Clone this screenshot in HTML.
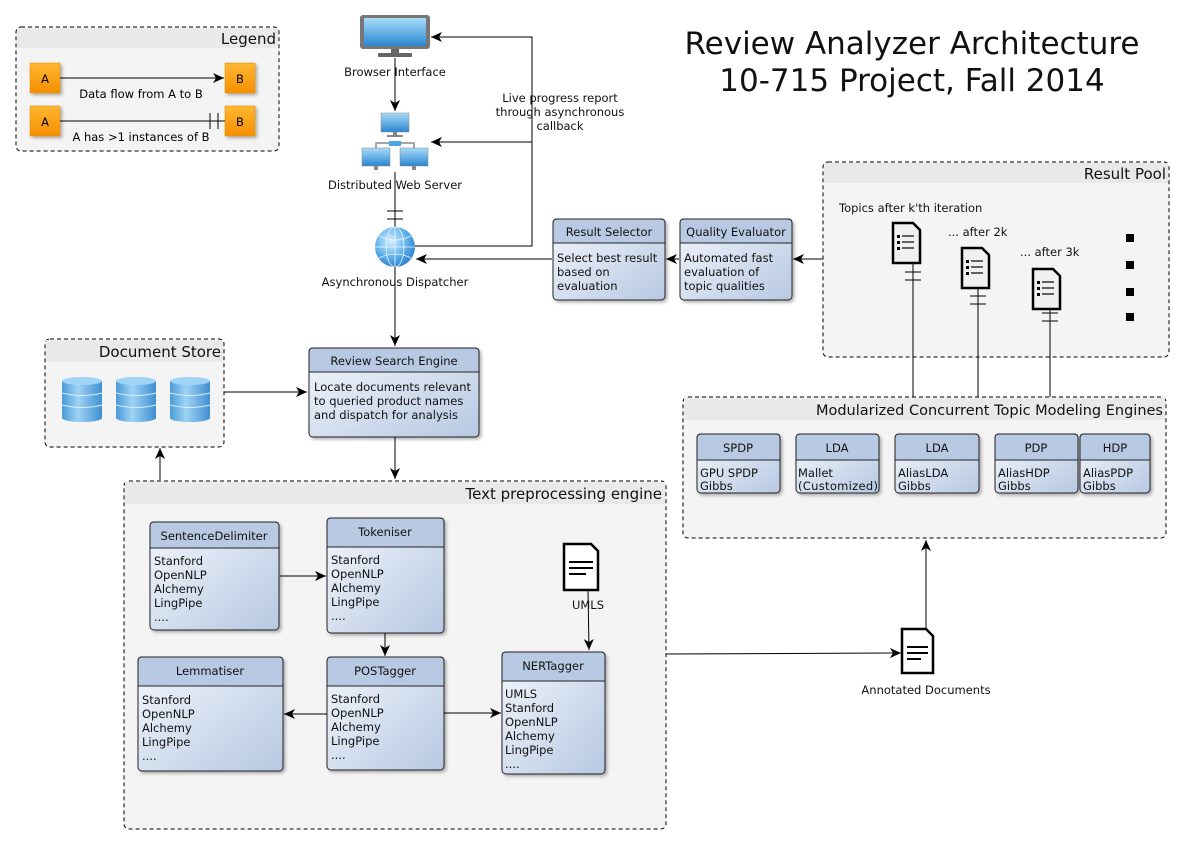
<!DOCTYPE html>
<html><head><meta charset="utf-8"><style>
html,body{margin:0;padding:0;background:#fff;}
svg{display:block;font-family:"DejaVu Sans","Liberation Sans",sans-serif;}
</style></head><body>
<svg width="1196" height="845" viewBox="0 0 1196 845" xmlns="http://www.w3.org/2000/svg">
<defs>
<linearGradient id="bg" x1="0" y1="0" x2="1" y2="1"><stop offset="0" stop-color="#f4f7fc"/><stop offset="1" stop-color="#b6c8e2"/></linearGradient>
<linearGradient id="or" x1="0" y1="0" x2="0" y2="1"><stop offset="0" stop-color="#ffb733"/><stop offset="1" stop-color="#f58f00"/></linearGradient>
<linearGradient id="mon" x1="0" y1="0" x2="0" y2="1"><stop offset="0" stop-color="#a9dcf8"/><stop offset="1" stop-color="#2a86d1"/></linearGradient>
<linearGradient id="db" x1="0" y1="0" x2="1" y2="0"><stop offset="0" stop-color="#4a9ad8"/><stop offset="0.4" stop-color="#9ed3f5"/><stop offset="1" stop-color="#3f8fd2"/></linearGradient>
<radialGradient id="gl" cx="0.4" cy="0.35" r="0.7"><stop offset="0" stop-color="#d8f0ff"/><stop offset="0.6" stop-color="#5aaee8"/><stop offset="1" stop-color="#2a7ccc"/></radialGradient>
<marker id="ar" markerWidth="12" markerHeight="10" refX="11" refY="5" orient="auto" markerUnits="userSpaceOnUse"><path d="M0,0 L11,5 L0,10 L3,5 Z" fill="#000"/></marker>
<filter id="sh" x="-10%" y="-10%" width="130%" height="130%"><feDropShadow dx="2" dy="2" stdDeviation="1.5" flood-opacity="0.3"/></filter>
</defs>

<g fill="#f4f4f4" stroke="#000" stroke-dasharray="4,3" stroke-width="1">
<rect x="16" y="27" width="263" height="124" rx="5"/>
<rect x="823" y="162" width="346" height="195" rx="5"/>
<rect x="683" y="397" width="483" height="141" rx="5"/>
<rect x="45" y="339" width="179" height="108" rx="5"/>
<rect x="124" y="481" width="542" height="348" rx="5"/>
</g>
<g fill="#e9e9e9">
<rect x="17" y="28" width="261" height="20"/>
<rect x="824" y="163" width="344" height="20"/>
<rect x="684" y="398" width="481" height="22"/>
<rect x="46" y="340" width="177" height="22"/>
<rect x="125" y="482" width="540" height="22"/>
</g>
<g font-size="15" text-anchor="end" fill="#111">
<text x="276" y="44">Legend</text>
<text x="1166" y="179">Result Pool</text>
<text x="1163" y="415" font-size="14.5">Modularized Concurrent Topic Modeling Engines</text>
<text x="221" y="357">Document Store</text>
<text x="662" y="499">Text preprocessing engine</text>
</g>

<g font-size="31" text-anchor="middle" fill="#111" font-family="'DejaVu Sans',sans-serif">
<text x="912" y="54">Review Analyzer Architecture</text>
<text x="912" y="91">10-715 Project, Fall 2014</text>
</g>

<g filter="url(#sh)" fill="url(#or)" stroke="#e08a00" stroke-width="0.5">
<rect x="30" y="63" width="30" height="30"/><rect x="225" y="63" width="30" height="30"/>
<rect x="30" y="106" width="30" height="30"/><rect x="225" y="106" width="30" height="30"/>
</g>
<g font-size="11.5" fill="#000" text-anchor="middle">
<text x="45" y="83">A</text><text x="240" y="83">B</text>
<text x="45" y="126">A</text><text x="240" y="126">B</text>
<text x="141" y="98">Data flow from A to B</text>
<text x="141" y="141">A has &gt;1 instances of B</text>
</g>
<line x1="60" y1="78" x2="224" y2="78" stroke="#000" marker-end="url(#ar)"/>
<line x1="60" y1="121" x2="225" y2="121" stroke="#000"/>
<line x1="210" y1="113" x2="210" y2="129" stroke="#000"/><line x1="218" y1="113" x2="218" y2="129" stroke="#000"/>

<rect x="360" y="15" width="70" height="34" rx="3" fill="#777"/>
<rect x="364" y="18" width="62" height="28" fill="url(#mon)"/>
<rect x="391" y="49" width="8" height="4" fill="#666"/><rect x="378" y="53" width="34" height="4" rx="1" fill="#666"/>
<g font-size="11.5" text-anchor="middle" fill="#111">
<text x="395" y="76">Browser Interface</text>
<text x="395" y="189">Distributed Web Server</text>
<text x="395" y="286">Asynchronous Dispatcher</text>
<text x="560" y="102">Live progress report</text>
<text x="560" y="116">through asynchronous</text>
<text x="560" y="130">callback</text>
</g>
<line x1="395" y1="58" x2="395" y2="111" stroke="#000" marker-end="url(#ar)"/>
<rect x="381" y="113" width="28" height="19" fill="url(#mon)" stroke="#888" stroke-width="0.5"/>
<rect x="393" y="132" width="4" height="5" fill="#888"/><rect x="387" y="135" width="16" height="2" fill="#888"/>
<path d="M376,148 V143 H414 V148" fill="none" stroke="#888" stroke-width="1.5"/>
<rect x="389" y="141" width="12" height="5" fill="#4aa6e8"/>
<rect x="362" y="148" width="28" height="18" fill="url(#mon)" stroke="#888" stroke-width="0.5"/>
<rect x="400" y="148" width="28" height="18" fill="url(#mon)" stroke="#888" stroke-width="0.5"/>
<rect x="374" y="166" width="4" height="4" fill="#888"/><rect x="412" y="166" width="4" height="4" fill="#888"/>
<line x1="395" y1="172" x2="395" y2="228" stroke="#000"/>
<line x1="387" y1="211" x2="403" y2="211" stroke="#000"/><line x1="387" y1="219" x2="403" y2="219" stroke="#000"/>
<circle cx="395" cy="247" r="20" fill="url(#gl)"/>
<g stroke="#e6f6ff" stroke-width="0.8" fill="none"><ellipse cx="395" cy="247" rx="9" ry="20"/><line x1="375" y1="247" x2="415" y2="247"/><line x1="395" y1="227" x2="395" y2="267"/><path d="M379,236 Q395,244 411,236"/><path d="M379,258 Q395,250 411,258"/></g>
<line x1="395" y1="267" x2="395" y2="346" stroke="#000" marker-end="url(#ar)"/>
<path d="M415,246 H532 V37 H431" fill="none" stroke="#000" marker-end="url(#ar)"/>
<line x1="532" y1="142" x2="431" y2="142" stroke="#000" marker-end="url(#ar)"/>
<line x1="552" y1="259" x2="416" y2="259" stroke="#000" marker-end="url(#ar)"/>
<line x1="679" y1="259" x2="666" y2="259" stroke="#000" marker-end="url(#ar)"/>
<line x1="823" y1="259" x2="793" y2="259" stroke="#000" marker-end="url(#ar)"/>

<g filter="url(#sh)" stroke="#222" stroke-width="1">
<rect x="553" y="219" width="112" height="81" rx="4" fill="url(#bg)"/>
<rect x="680" y="219" width="112" height="81" rx="4" fill="url(#bg)"/>
<rect x="309" y="348" width="170" height="89" rx="4" fill="url(#bg)"/>
<rect x="697" y="434" width="83" height="59" rx="4" fill="url(#bg)"/>
<rect x="796" y="434" width="83" height="59" rx="4" fill="url(#bg)"/>
<rect x="895" y="434" width="84" height="59" rx="4" fill="url(#bg)"/>
<rect x="995" y="434" width="83" height="59" rx="4" fill="url(#bg)"/>
<rect x="1080" y="434" width="70" height="59" rx="4" fill="url(#bg)"/>
<rect x="150" y="522" width="129" height="108" rx="4" fill="url(#bg)"/>
<rect x="327" y="518" width="117" height="115" rx="4" fill="url(#bg)"/>
<rect x="138" y="657" width="145" height="114" rx="4" fill="url(#bg)"/>
<rect x="327" y="657" width="117" height="113" rx="4" fill="url(#bg)"/>
<rect x="502" y="652" width="103" height="122" rx="4" fill="url(#bg)"/>
</g>
<g fill="#b8c9e3" stroke="#222" stroke-width="1">
<path d="M553,243 V223 Q553,219 557,219 H661 Q665,219 665,223 V243 Z"/>
<path d="M680,243 V223 Q680,219 684,219 H788 Q792,219 792,223 V243 Z"/>
<path d="M309,372 V352 Q309,348 313,348 H475 Q479,348 479,352 V372 Z"/>
<path d="M697,460 V438 Q697,434 701,434 H776 Q780,434 780,438 V460 Z"/>
<path d="M796,460 V438 Q796,434 800,434 H875 Q879,434 879,438 V460 Z"/>
<path d="M895,460 V438 Q895,434 899,434 H975 Q979,434 979,438 V460 Z"/>
<path d="M995,460 V438 Q995,434 999,434 H1074 Q1078,434 1078,438 V460 Z"/>
<path d="M1080,460 V438 Q1080,434 1084,434 H1146 Q1150,434 1150,438 V460 Z"/>
<path d="M150,548 V526 Q150,522 154,522 H275 Q279,522 279,526 V548 Z"/>
<path d="M327,547 V522 Q327,518 331,518 H440 Q444,518 444,522 V547 Z"/>
<path d="M138,686 V661 Q138,657 142,657 H279 Q283,657 283,661 V686 Z"/>
<path d="M327,686 V661 Q327,657 331,657 H440 Q444,657 444,661 V686 Z"/>
<path d="M502,681 V656 Q502,652 506,652 H601 Q605,652 605,656 V681 Z"/>
</g>
<g font-size="11.5" fill="#111" text-anchor="middle">
<text x="609" y="236">Result Selector</text>
<text x="736" y="236">Quality Evaluator</text>
<text x="394" y="365">Review Search Engine</text>
<text x="738" y="452">SPDP</text><text x="837" y="452">LDA</text><text x="937" y="452">LDA</text><text x="1036" y="452">PDP</text><text x="1115" y="452">HDP</text>
<text x="214" y="540">SentenceDelimiter</text>
<text x="385" y="536">Tokeniser</text>
<text x="210" y="675">Lemmatiser</text>
<text x="385" y="675">POSTagger</text>
<text x="553" y="670">NERTagger</text>
</g>
<g font-size="11.5" fill="#111">
<text x="557" y="262">Select best result</text><text x="557" y="276">based on</text><text x="557" y="290">evaluation</text>
<text x="684" y="262">Automated fast</text><text x="684" y="276">evaluation of</text><text x="684" y="290">topic qualities</text>
<text x="314" y="391">Locate documents relevant</text><text x="314" y="405">to queried product names</text><text x="314" y="419">and dispatch for analysis</text>
<text x="700" y="477">GPU SPDP</text><text x="700" y="490">Gibbs</text>
<text x="798" y="477">Mallet</text><text x="798" y="490" textLength="80">(Customized)</text>
<text x="898" y="477">AliasLDA</text><text x="898" y="490">Gibbs</text>
<text x="998" y="477">AliasHDP</text><text x="998" y="490">Gibbs</text>
<text x="1083" y="477">AliasPDP</text><text x="1083" y="490">Gibbs</text>
<text x="154" y="565">Stanford</text><text x="154" y="579">OpenNLP</text><text x="154" y="593">Alchemy</text><text x="154" y="607">LingPipe</text><text x="154" y="621">....</text>
<text x="331" y="564">Stanford</text><text x="331" y="578">OpenNLP</text><text x="331" y="592">Alchemy</text><text x="331" y="606">LingPipe</text><text x="331" y="620">....</text>
<text x="142" y="704">Stanford</text><text x="142" y="718">OpenNLP</text><text x="142" y="732">Alchemy</text><text x="142" y="746">LingPipe</text><text x="142" y="760">....</text>
<text x="331" y="703">Stanford</text><text x="331" y="717">OpenNLP</text><text x="331" y="731">Alchemy</text><text x="331" y="745">LingPipe</text><text x="331" y="759">....</text>
<text x="505" y="698">UMLS</text><text x="505" y="712">Stanford</text><text x="505" y="726">OpenNLP</text><text x="505" y="740">Alchemy</text><text x="505" y="754">LingPipe</text><text x="505" y="768">....</text>
<text x="839" y="212">Topics after k'th iteration</text>
<text x="948" y="236">... after 2k</text>
<text x="1020" y="256">... after 3k</text>
</g>

<g>
<g id="d1">
<rect x="62" y="381" width="40" height="37" fill="url(#db)"/>
<ellipse cx="82" cy="418" rx="20" ry="4" fill="url(#db)"/>
<ellipse cx="82" cy="381" rx="20" ry="4" fill="#9fd4f6"/>
<path d="M62,393 Q82,398 102,393 M62,405 Q82,410 102,405" stroke="#d5ecfb" fill="none"/>
</g>
<use href="#d1" x="54"/><use href="#d1" x="108"/>
</g>
<line x1="224" y1="392" x2="307" y2="392" stroke="#000" marker-end="url(#ar)"/>
<line x1="160" y1="480" x2="160" y2="448" stroke="#000" marker-end="url(#ar)"/>
<line x1="395" y1="437" x2="395" y2="479" stroke="#000" marker-end="url(#ar)"/>

<line x1="280" y1="576" x2="326" y2="576" stroke="#000" marker-end="url(#ar)"/>
<line x1="385" y1="633" x2="385" y2="656" stroke="#000" marker-end="url(#ar)"/>
<line x1="327" y1="714" x2="284" y2="714" stroke="#000" marker-end="url(#ar)"/>
<line x1="444" y1="713" x2="501" y2="713" stroke="#000" marker-end="url(#ar)"/>
<path d="M564,544 H591 L598,551 V590 H564 Z" fill="#fff" stroke="#000" stroke-width="2.5"/>
<g stroke="#000" stroke-width="2"><line x1="569" y1="562" x2="593" y2="562"/><line x1="569" y1="568" x2="593" y2="568"/><line x1="569" y1="574" x2="586" y2="574"/></g>
<line x1="588" y1="590" x2="589" y2="650" stroke="#000" marker-end="url(#ar)"/>
<text x="588" y="609" font-size="11.5" text-anchor="middle" fill="#111">UMLS</text>

<line x1="666" y1="654" x2="901" y2="653" stroke="#000" marker-end="url(#ar)"/>
<path d="M902,629 H926 L933,636 V673 H902 Z" fill="#fff" stroke="#000" stroke-width="2.5"/>
<g stroke="#000" stroke-width="2"><line x1="907" y1="647" x2="928" y2="647"/><line x1="907" y1="653" x2="928" y2="653"/><line x1="907" y1="659" x2="921" y2="659"/></g>
<text x="926" y="694" font-size="11.5" text-anchor="middle" fill="#111">Annotated Documents</text>
<line x1="926" y1="629" x2="926" y2="540" stroke="#000" marker-end="url(#ar)"/>

<g id="rd">
<path d="M893,223 H913 L920,230 V263 H893 Z" fill="#f0f0f0" stroke="#000" stroke-width="2.5"/>
<g stroke="#333" stroke-width="1.5"><line x1="902" y1="236" x2="914" y2="236"/><line x1="902" y1="242" x2="914" y2="242"/><line x1="902" y1="248" x2="914" y2="248"/></g>
<g fill="#000"><rect x="897" y="235" width="3" height="3"/><rect x="897" y="241" width="3" height="3"/><rect x="897" y="247" width="3" height="3"/></g>
</g>
<use href="#rd" x="69" y="25"/><use href="#rd" x="140" y="46"/>
<g stroke="#000">
<line x1="913" y1="263" x2="913" y2="397"/><line x1="905" y1="272" x2="921" y2="272"/><line x1="905" y1="280" x2="921" y2="280"/>
<line x1="978" y1="289" x2="978" y2="397"/><line x1="970" y1="296" x2="986" y2="296"/><line x1="970" y1="304" x2="986" y2="304"/>
<line x1="1050" y1="309" x2="1050" y2="397"/><line x1="1042" y1="313" x2="1058" y2="313"/><line x1="1042" y1="321" x2="1058" y2="321"/>
</g>
<g fill="#000"><rect x="1126" y="234" width="8" height="8"/><rect x="1126" y="261" width="8" height="8"/><rect x="1126" y="288" width="8" height="8"/><rect x="1126" y="313" width="8" height="8"/></g>
</svg>
</body></html>
